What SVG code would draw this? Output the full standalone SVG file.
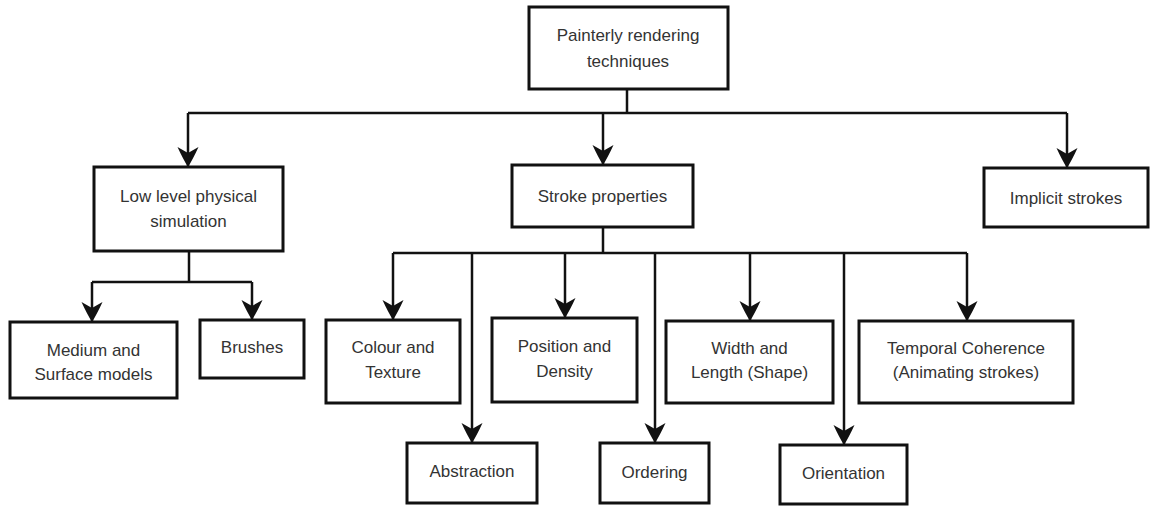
<svg xmlns="http://www.w3.org/2000/svg" width="1155" height="506" viewBox="0 0 1155 506">
<defs>
<style>
.box{fill:#fff;stroke:#111;stroke-width:3}
.t{font-family:"Liberation Sans",Arial,sans-serif;font-size:17px;fill:#333;text-anchor:middle}
.c{fill:none;stroke:#111;stroke-width:2.5}
.a{fill:none;stroke:#111;stroke-width:2.5;marker-end:url(#arr)}
</style>
<marker id="arr" markerUnits="userSpaceOnUse" markerWidth="22" markerHeight="22" viewBox="0 -11 22 22" refX="20" refY="0" orient="auto">
<path d="M0,-10.5 Q12,-5 20,0 Q12,5 0,10.5 L6,0 Z" fill="#111"/>
</marker>
</defs>
<rect width="1155" height="506" fill="#fff"/>
<g id="connectors">
<path class="c" d="M627,89 V113 M188,113 H1067 M189,251 V282 M92,282 H252 M603,227 V253 M393,253 H967"/>
<path class="a" d="M188,113 V167"/>
<path class="a" d="M603,113 V165"/>
<path class="a" d="M1067,113 V168"/>
<path class="a" d="M92,282 V322"/>
<path class="a" d="M252,282 V320"/>
<path class="a" d="M393,253 V320"/>
<path class="a" d="M472,253 V443"/>
<path class="a" d="M565,253 V318"/>
<path class="a" d="M655,253 V443"/>
<path class="a" d="M750,253 V321"/>
<path class="a" d="M844,253 V445"/>
<path class="a" d="M967,253 V321"/>
</g>
<g id="root"><rect class="box" x="529" y="7" width="199" height="82"/><text class="t" x="628" y="41">Painterly rendering</text><text class="t" x="628" y="67">techniques</text></g>
<g id="lowlevel"><rect class="box" x="94" y="167" width="189" height="84"/><text class="t" x="188.5" y="202">Low level physical</text><text class="t" x="188.5" y="227">simulation</text></g>
<g id="stroke"><rect class="box" x="512" y="165" width="181" height="62"/><text class="t" x="602.5" y="202">Stroke properties</text></g>
<g id="implicit"><rect class="box" x="984" y="168" width="164" height="59"/><text class="t" x="1066" y="204">Implicit strokes</text></g>
<g id="medium"><rect class="box" x="10" y="322" width="167" height="76"/><text class="t" x="93.5" y="356">Medium and</text><text class="t" x="93.5" y="380">Surface models</text></g>
<g id="brushes"><rect class="box" x="200" y="320" width="104" height="58"/><text class="t" x="252" y="353">Brushes</text></g>
<g id="colour"><rect class="box" x="326" y="320" width="134" height="83"/><text class="t" x="393" y="353">Colour and</text><text class="t" x="393" y="378">Texture</text></g>
<g id="position"><rect class="box" x="492" y="318" width="145" height="84"/><text class="t" x="564.5" y="352">Position and</text><text class="t" x="564.5" y="377">Density</text></g>
<g id="width"><rect class="box" x="666" y="321" width="167" height="82"/><text class="t" x="749.5" y="354">Width and</text><text class="t" x="749.5" y="378">Length (Shape)</text></g>
<g id="temporal"><rect class="box" x="859" y="321" width="214" height="82"/><text class="t" x="966" y="354">Temporal Coherence</text><text class="t" x="966" y="378">(Animating strokes)</text></g>
<g id="abstraction"><rect class="box" x="407" y="443" width="130" height="60"/><text class="t" x="472" y="477">Abstraction</text></g>
<g id="ordering"><rect class="box" x="600" y="443" width="109" height="60"/><text class="t" x="654.5" y="478">Ordering</text></g>
<g id="orientation"><rect class="box" x="780" y="445" width="127" height="59"/><text class="t" x="843.5" y="479">Orientation</text></g>
</svg>
